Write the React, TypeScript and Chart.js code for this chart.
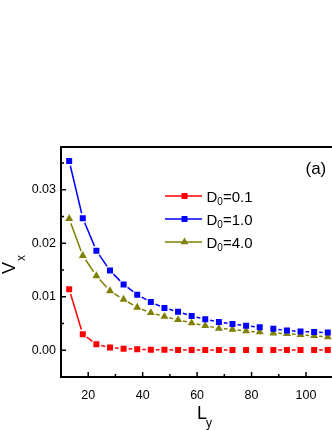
import React, { useEffect, useRef } from "react";
import { Chart, registerables } from "chart.js";

Chart.register(...registerables);

// ---- data ----
const lengths = [13, 18, 23, 28, 33, 38, 43, 48, 53, 58, 63, 68, 73, 78, 83, 88, 93, 98, 103, 108];
const vxD01 = [0.0114, 0.003, 0.0011, 0.0005, 0.0003, 0.0002, 0.0001, 0.0001, 0.00005, 0.00005, 0.00005, 0.00005, 0.00005, 0.00005, 0.00005, 0.00005, 0.00005, 0.00005, 0.00005, 0.00005];
const vxD10 = [0.0354, 0.0247, 0.0186, 0.0149, 0.0123, 0.0104, 0.009, 0.0079, 0.0072, 0.0064, 0.0058, 0.0053, 0.0049, 0.0046, 0.0043, 0.004, 0.0037, 0.0035, 0.0034, 0.0033];
const vxD40 = [0.0246, 0.0177, 0.0139, 0.0111, 0.0095, 0.008, 0.007, 0.0063, 0.0057, 0.0051, 0.0046, 0.0041, 0.0039, 0.0036, 0.0034, 0.0032, 0.0031, 0.0029, 0.0027, 0.0025];
const seriesLabels = ["0.1", "1.0", "4.0"];
const seriesColors = ["#ff0000", "#0000ff", "#808000"];
const seriesMarkers = ["rect", "rect", "triangle"];
const xMajorTicks = [20, 40, 60, 80, 100];
const xMinorTicks = [30, 50, 70, 90];
const yMajorTicks = [0, 0.01, 0.02, 0.03];
const yMinorTicks = [0.005, 0.015, 0.025, 0.035];
const panelLabel = "(a)";

const FONT = "'Liberation Sans', Arial, sans-serif";
const CANVAS_W = 360;
const CANVAS_H = 430;

function gapDash(ctx: any, gap: number) {
  const p0 = ctx.p0;
  const p1 = ctx.p1;
  const len = Math.hypot(p1.x - p0.x, p1.y - p0.y);
  if (len <= 2 * gap + 0.5) return [0, len + 100];
  return [0, gap, len - 2 * gap, gap + 1000];
}

function drawMarker(ctx: CanvasRenderingContext2D, style: string, x: number, y: number, color: string) {
  ctx.fillStyle = color;
  ctx.beginPath();
  if (style === "triangle") {
    const r = 4.6;
    ctx.moveTo(x, y - r);
    ctx.lineTo(x + r * Math.sin((2 * Math.PI) / 3), y - r * Math.cos((2 * Math.PI) / 3));
    ctx.lineTo(x + r * Math.sin((4 * Math.PI) / 3), y - r * Math.cos((4 * Math.PI) / 3));
    ctx.closePath();
  } else {
    const s = 3;
    ctx.rect(x - s, y - s, 2 * s, 2 * s);
  }
  ctx.fill();
}

const decorPlugin = {
  id: "decor",
  afterDraw(chart: any) {
    const ctx: CanvasRenderingContext2D = chart.ctx;
    const { left, right, top, bottom } = chart.chartArea;
    const xs = chart.scales.x;
    const ys = chart.scales.y;
    ctx.save();
    // frame
    ctx.strokeStyle = "#000";
    ctx.lineWidth = 2;
    ctx.beginPath();
    ctx.rect(left, top, right - left, bottom - top);
    ctx.stroke();
    // inward ticks
    ctx.lineWidth = 1.5;
    ctx.beginPath();
    for (const v of yMajorTicks) {
      const p = ys.getPixelForValue(v);
      ctx.moveTo(left, p);
      ctx.lineTo(left + 5, p);
    }
    for (const v of yMinorTicks) {
      const p = ys.getPixelForValue(v);
      ctx.moveTo(left, p);
      ctx.lineTo(left + 3, p);
    }
    for (const v of xMajorTicks) {
      const p = xs.getPixelForValue(v);
      ctx.moveTo(p, bottom);
      ctx.lineTo(p, bottom - 5);
    }
    for (const v of xMinorTicks) {
      const p = xs.getPixelForValue(v);
      ctx.moveTo(p, bottom);
      ctx.lineTo(p, bottom - 3);
    }
    ctx.stroke();

    ctx.fillStyle = "#000";
    ctx.textBaseline = "alphabetic";
    ctx.textAlign = "left";
    // x title L_y
    ctx.font = `18px ${FONT}`;
    const lx = left + 136;
    const ly = bottom + 41.5;
    ctx.fillText("L", lx, ly);
    const lw = ctx.measureText("L").width;
    ctx.font = `12px ${FONT}`;
    ctx.fillText("y", lx + lw - 1, ly + 8);

    // y title V_x (rotated)
    ctx.save();
    ctx.translate(15, 274);
    ctx.rotate(-Math.PI / 2);
    ctx.font = `18px ${FONT}`;
    ctx.fillText("V", 0, 0);
    const vw = ctx.measureText("V").width;
    ctx.font = `12px ${FONT}`;
    ctx.fillText("x", vw + 1, 10);
    ctx.restore();

    // panel label
    ctx.font = `17px ${FONT}`;
    ctx.fillText(panelLabel, 305.5, 173.5);

    // legend
    const lgX0 = 165;
    const lgX1 = 202;
    const lgY0 = 196;
    const rowH = 23;
    seriesLabels.forEach((lab, i) => {
      const y = lgY0 + i * rowH;
      const c = seriesColors[i];
      ctx.strokeStyle = c;
      ctx.lineWidth = 1.5;
      ctx.beginPath();
      ctx.moveTo(lgX0, y);
      ctx.lineTo(lgX1, y);
      ctx.stroke();
      drawMarker(ctx, seriesMarkers[i], (lgX0 + lgX1) / 2 + 1, y, c);
      ctx.fillStyle = "#000";
      let tx = 206.5;
      ctx.font = `15px ${FONT}`;
      ctx.fillText("D", tx, y + 5.7);
      tx += ctx.measureText("D").width;
      ctx.font = `10px ${FONT}`;
      ctx.fillText("0", tx, y + 8.5);
      tx += ctx.measureText("0").width;
      ctx.font = `15px ${FONT}`;
      ctx.fillText("=" + lab, tx, y + 5.7);
    });
    ctx.restore();
  },
};

export default function App() {
  const canvasRef = useRef<HTMLCanvasElement | null>(null);

  useEffect(() => {
    const canvas = canvasRef.current;
    if (!canvas) return;
    const seriesData = [vxD01, vxD10, vxD40];
    const chart = new Chart(canvas, {
      type: "line",
      data: {
        datasets: seriesData.map((vals, i) => ({
          label: "D0=" + seriesLabels[i],
          data: lengths.map((x, k) => ({ x, y: vals[k] })),
          borderColor: seriesColors[i],
          backgroundColor: seriesColors[i],
          borderWidth: 1.5,
          pointStyle: seriesMarkers[i] as any,
          pointRadius: seriesMarkers[i] === "triangle" ? 4.6 : 4.24,
          pointBorderWidth: 0,
          pointBackgroundColor: seriesColors[i],
          tension: 0,
          fill: false,
          segment: {
            borderDash: (ctx: any) => gapDash(ctx, 5),
          },
        })),
      },
      options: {
        responsive: false,
        animation: false,
        devicePixelRatio: 1,
        layout: { padding: { left: 0, top: 147, right: CANVAS_W - 333.2, bottom: 0 } },
        plugins: {
          legend: { display: false },
          tooltip: { enabled: false },
        },
        scales: {
          x: {
            type: "linear",
            min: 10,
            max: 110,
            grid: { display: false, drawTicks: false },
            border: { display: false },
            afterFit: (scale: any) => {
              scale.height = 53;
            },
            afterBuildTicks: (scale: any) => {
              scale.ticks = xMajorTicks.map((v) => ({ value: v }));
            },
            ticks: {
              padding: 11,
              color: "#000",
              font: { family: FONT, size: 12.5 },
              maxRotation: 0,
              autoSkip: false,
              callback: (v: any) => String(v),
            },
          },
          y: {
            type: "linear",
            min: -0.005,
            max: 0.038,
            grid: { display: false, drawTicks: false },
            border: { display: false },
            afterFit: (scale: any) => {
              scale.width = 61;
            },
            afterBuildTicks: (scale: any) => {
              scale.ticks = yMajorTicks.map((v) => ({ value: v }));
            },
            ticks: {
              padding: 5,
              color: "#000",
              font: { family: FONT, size: 12.5 },
              autoSkip: false,
              callback: (v: any) => Number(v).toFixed(2),
            },
          },
        },
      },
      plugins: [decorPlugin],
    });
    return () => chart.destroy();
  }, []);

  return (
    <div
      style={{
        position: "fixed",
        left: 0,
        top: 0,
        width: 332,
        height: 430,
        overflow: "hidden",
        background: "#fff",
      }}
    >
      <canvas
        ref={canvasRef}
        width={CANVAS_W}
        height={CANVAS_H}
        style={{ display: "block", width: CANVAS_W, height: CANVAS_H }}
      />
    </div>
  );
}
